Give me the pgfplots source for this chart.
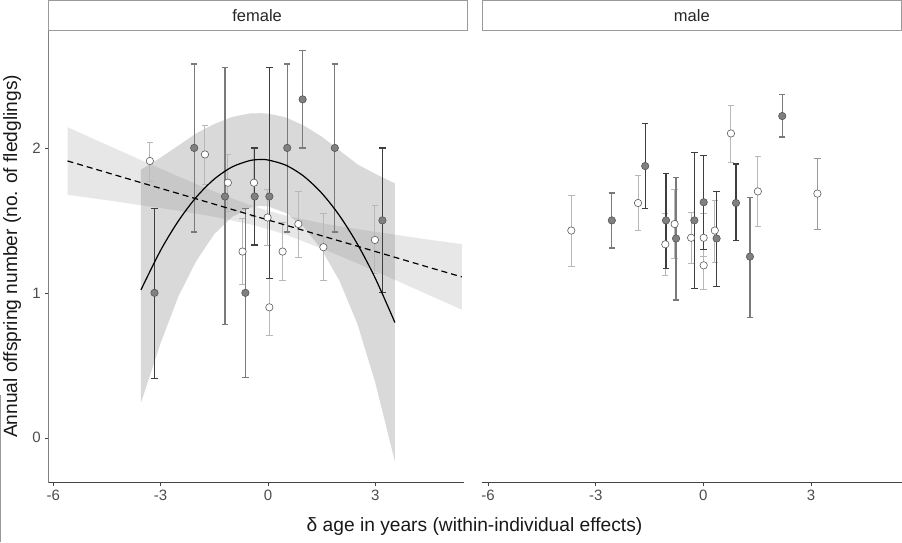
\documentclass[border=0pt]{standalone}
\usepackage{fontspec}
\setmainfont{Liberation Sans}
\usepackage{pgfplots}
\usepackage{pgfplotstable}
\usepgfplotslibrary{fillbetween}
\pgfplotsset{compat=1.18}
\definecolor{ptgray}{HTML}{808080}
\definecolor{ptedge}{HTML}{555555}
\definecolor{wedge}{HTML}{5A5A5A}
\definecolor{bardark}{HTML}{3E3E3E}
\definecolor{barmed}{HTML}{7A7A7A}
\definecolor{barlight}{HTML}{B8B8B8}
\definecolor{barml}{HTML}{999999}
\definecolor{axgray}{HTML}{444444}
\definecolor{yaxgray}{HTML}{808080}
\definecolor{ticktext}{HTML}{4D4D4D}
\definecolor{stripgray}{HTML}{9A9A9A}

\pgfplotstableread{
x y lo hi
-3.30 1.91 1.77 2.04
-1.76 1.955 1.745 2.155
-1.12 1.76 1.56 1.955
-0.71 1.285 1.055 1.515
-0.39 1.76 1.53 2.00
-0.01 1.52 1.33 1.71
0.04 0.90 0.705 1.10
0.41 1.285 1.085 1.485
0.85 1.475 1.245 1.70
1.55 1.315 1.085 1.545
2.99 1.365 1.135 1.60
}\fwhite
\pgfplotstableread{
x y lo hi
-3.17 1.00 0.41 1.58
-0.37 1.665 1.33 2.00
0.04 1.665 1.10 2.555
3.20 1.50 1.00 2.00
}\fdark
\pgfplotstableread{
x y lo hi
-2.06 2.00 1.42 2.58
-1.20 1.665 0.78 2.555
-0.63 1.00 0.415 1.58
0.54 2.00 1.42 2.58
0.97 2.335 2.00 2.67
1.87 2.00 1.42 2.58
}\fmed
\pgfplotstableread{
x y lo hi
-3.68 1.43 1.18 1.67
-1.82 1.62 1.43 1.81
-1.06 1.335 1.12 1.55
-0.80 1.475 1.24 1.715
-0.34 1.38 1.205 1.555
0.01 1.38 1.25 1.55
0.01 1.19 1.02 1.30
0.32 1.43 1.21 1.64
0.77 2.10 1.90 2.295
1.52 1.70 1.46 1.94
}\mwhite
\pgfplotstableread{
x y lo hi
3.18 1.685 1.44 1.925
}\mwhiteb
\pgfplotstableread{
x y lo hi
-1.62 1.875 1.58 2.17
-1.04 1.50 1.17 1.825
-0.25 1.50 1.03 1.97
0.01 1.625 1.30 1.95
0.37 1.375 1.045 1.70
0.91 1.62 1.36 1.89
}\mdark
\pgfplotstableread{
x y lo hi
-2.55 1.50 1.31 1.69
-0.76 1.375 0.95 1.795
1.30 1.25 0.83 1.66
2.20 2.22 2.075 2.37
}\mmed
\pgfplotstableread{
x fit up lo
-3.55 1.020 1.850 0.240
-3.0 1.293 1.933 0.653
-2.5 1.497 2.017 0.977
-2.0 1.661 2.101 1.221
-1.5 1.785 2.165 1.405
-1.0 1.869 2.214 1.524
-0.5 1.913 2.238 1.588
-0.2 1.920 2.240 1.600
0.0 1.917 2.237 1.597
0.5 1.881 2.211 1.551
1.0 1.805 2.155 1.455
1.5 1.689 2.079 1.299
2.0 1.533 1.983 1.083
2.5 1.337 1.887 0.787
3.0 1.101 1.821 0.381
3.55 0.795 1.755 -0.165
}\quadtab
\pgfplotstableread{
x fit up lo
-5.6 1.910 2.143 1.677
-4.5 1.830 2.021 1.639
-3.5 1.757 1.911 1.603
-2.5 1.685 1.803 1.567
-1.5 1.612 1.699 1.525
-0.5 1.539 1.605 1.473
0.0 1.503 1.566 1.440
0.5 1.467 1.533 1.401
1.5 1.394 1.481 1.307
2.5 1.322 1.440 1.204
3.5 1.249 1.403 1.095
4.5 1.176 1.367 0.985
5.42 1.110 1.336 0.884
}\lintab

\pgfplotsset{
  panel/.style={
    height=453pt, scale only axis, anchor=south west,
    ymin=-0.31, ymax=2.814,
    axis x line*=bottom, axis y line*=left,
    x axis line style={draw=axgray, line width=0.6pt, -},
    y axis line style={draw=yaxgray, line width=0.6pt, -},
    tick align=outside, major tick length=3pt,
    tick style={draw=axgray, line width=0.5pt},
    xtick={-6,-3,0,3}, xticklabels={-6,-3,0,3},
    ytick={0,1,2}, yticklabels={0,1,2},
    tick label style={font=\fontsize{15}{17}\selectfont, text=ticktext},
    xticklabel style={yshift=-1pt},
    yticklabel style={xshift=-1pt},
    clip=false,
  },
  gpt/.style 2 args={only marks, mark=*, mark size=3.7pt, forget plot,
    mark options={fill=ptgray, draw=ptedge, line width=0.6pt},
    error bars/.cd, y dir=both, y explicit,
    error bar style={draw=#1, line width=#2, solid},
    error mark options={rotate=90, draw=#1, line width=#2, mark size=3.2pt, fill=none}},
  wpt/.style 2 args={only marks, mark=*, mark size=3.7pt, forget plot,
    mark options={fill=white, draw=wedge, line width=0.6pt},
    error bars/.cd, y dir=both, y explicit,
    error bar style={draw=#1, line width=#2, solid},
    error mark options={rotate=90, draw=#1, line width=#2, mark size=3.2pt, fill=none}},
  table/errtab/.style={x=x, y=y, y error plus expr=\thisrow{hi}-\thisrow{y}, y error minus expr=\thisrow{y}-\thisrow{lo}},
}

\begin{document}
\begin{tikzpicture}
% strips
\draw[draw=stripgray, line width=0.6pt, fill=white] (48.3pt,512pt) rectangle (467.7pt,541.6pt);
\node[font=\fontsize{16.5}{18}\selectfont, text=black!85] at (257pt,526.5pt) {female};
\draw[draw=stripgray, line width=0.6pt, fill=white] (482.3pt,512pt) rectangle (901.6pt,541.6pt);
\node[font=\fontsize{16.5}{18}\selectfont, text=black!85] at (692pt,526.5pt) {male};
\draw[draw=gray!80, line width=1pt] (0.5pt,0pt) -- (0.5pt,147pt);

% female panel
\begin{axis}[panel, width=416pt, at={(48pt,59pt)}, xmin=-6.14, xmax=5.48]
\addplot[name path=lu, draw=none, forget plot] table[x=x, y=up] {\lintab};
\addplot[name path=ll, draw=none, forget plot] table[x=x, y=lo] {\lintab};
\addplot[fill=gray, fill opacity=0.19, draw=none, forget plot] fill between[of=lu and ll];
\addplot[name path=qu, draw=none, forget plot] table[x=x, y=up] {\quadtab};
\addplot[name path=ql, draw=none, forget plot] table[x=x, y=lo] {\quadtab};
\addplot[fill=gray, fill opacity=0.3, draw=none, forget plot] fill between[of=qu and ql];
% points with error bars
\addplot[wpt={barlight}{1pt}] table[errtab] {\fwhite};
\addplot[gpt={barmed}{1.3pt}] table[errtab] {\fmed};
\addplot[gpt={bardark}{1.3pt}] table[errtab] {\fdark};
% fits
\addplot[black, line width=1.2pt, dash pattern=on 6pt off 4pt, forget plot] table[x=x, y=fit] {\lintab};
\addplot[black, line width=1.2pt, smooth, forget plot] table[x=x, y=fit] {\quadtab};
\end{axis}

% male panel
\begin{axis}[panel, width=420pt, at={(482pt,59pt)}, xmin=-6.17, xmax=5.53,
  ytick=\empty, y axis line style={draw=none}]
\addplot[wpt={barlight}{1pt}] table[errtab] {\mwhite};
\addplot[wpt={barml}{1pt}] table[errtab] {\mwhiteb};
\addplot[gpt={barmed}{1.3pt}] table[errtab] {\mmed};
\addplot[gpt={bardark}{1.3pt}] table[errtab] {\mdark};
\end{axis}

% axis titles
\node[font=\fontsize{19.2}{21}\selectfont, text=black!90] at (474.5pt,15pt) {δ age in years (within-individual effects)};
\node[font=\fontsize{19.2}{21}\selectfont, text=black!90, rotate=90] at (12pt,285.5pt) {Annual offspring number (no. of fledglings)};
\path (0,0) rectangle (902pt,542pt);
\end{tikzpicture}
\end{document}
